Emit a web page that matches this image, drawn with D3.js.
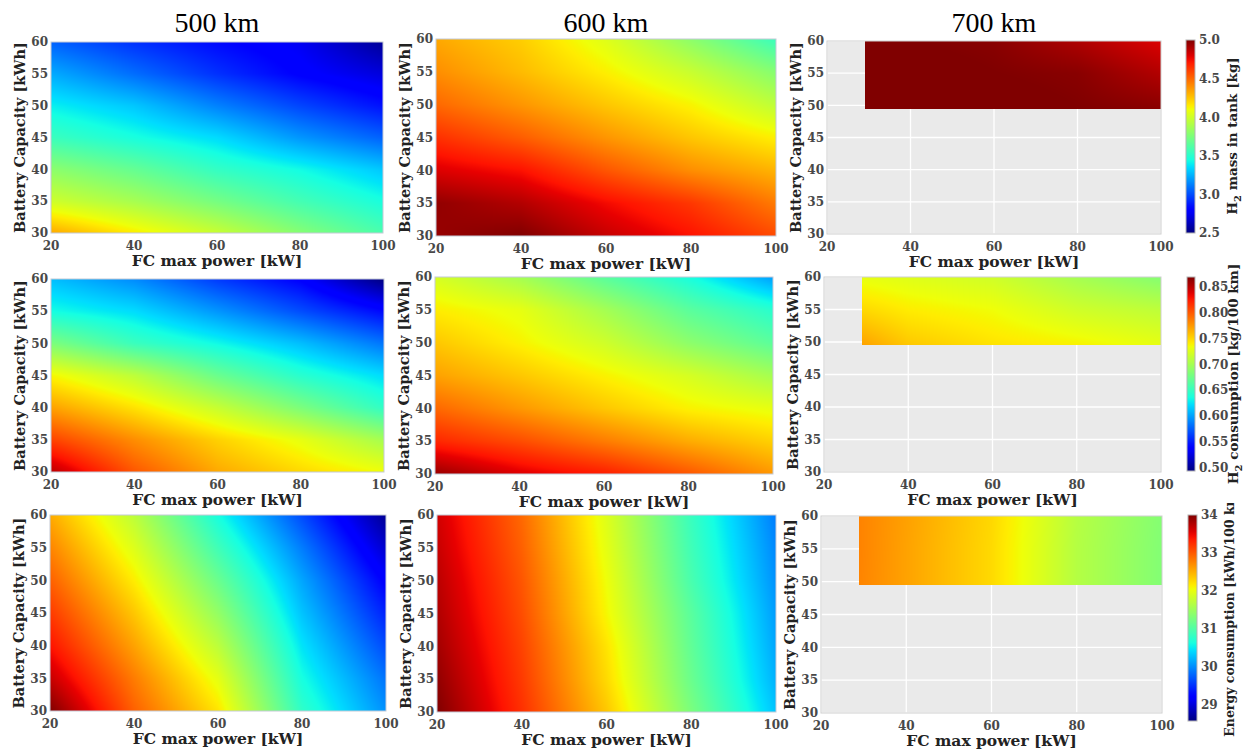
<!DOCTYPE html>
<html>
<head>
<meta charset="utf-8">
<script src="https://cdn.jsdelivr.net/npm/d3@7"></script>
<style>
  body { margin: 0; background: #fff; }
  svg { display: block; }
</style>
</head>
<body>
<svg id="fig" width="1252" height="752"></svg>
<script>
// --- data ---
var ranges = ["500 km", "600 km", "700 km"];
var fcPower = [20, 40, 60, 80, 100];           // kW
var batteryCap = [30, 35, 40, 45, 50, 55, 60]; // kWh
var fcPower700 = [29, 40, 60, 80, 100];
var batteryCap700 = [49.5, 55, 60];
var xTicks = [20, 40, 60, 80, 100];
var yTicks = [30, 35, 40, 45, 50, 55, 60];

// rows go from lowest battery capacity upward
var mass500 = [
  [4.33, 4.15, 3.98, 3.78, 3.60],
  [4.00, 3.88, 3.73, 3.58, 3.45],
  [3.80, 3.68, 3.53, 3.43, 3.30],
  [3.55, 3.45, 3.35, 3.18, 3.05],
  [3.40, 3.30, 3.13, 2.98, 2.85],
  [3.23, 3.08, 2.93, 2.80, 2.70],
  [3.05, 2.93, 2.83, 2.75, 2.55]
];
var mass600 = [
  [4.95, 5.00, 4.85, 4.73, 4.58],
  [4.96, 4.89, 4.75, 4.63, 4.45],
  [4.80, 4.73, 4.55, 4.40, 4.30],
  [4.65, 4.53, 4.38, 4.25, 4.14],
  [4.50, 4.38, 4.25, 4.13, 3.95],
  [4.40, 4.28, 4.14, 3.98, 3.78],
  [4.33, 4.23, 4.05, 3.80, 3.55]
];
var mass700 = [
  [5.05, 5.05, 5.03, 5.00, 4.98],
  [5.05, 5.03, 5.00, 4.98, 4.89],
  [5.02, 5.00, 4.98, 4.90, 4.80]
];
var cons500 = [
  [0.850, 0.801, 0.768, 0.749, 0.734],
  [0.809, 0.779, 0.752, 0.730, 0.700],
  [0.771, 0.745, 0.715, 0.681, 0.647],
  [0.737, 0.711, 0.673, 0.643, 0.621],
  [0.681, 0.651, 0.632, 0.610, 0.583],
  [0.634, 0.621, 0.595, 0.568, 0.542],
  [0.610, 0.591, 0.561, 0.538, 0.493]
];
var cons600 = [
  [0.861, 0.839, 0.824, 0.801, 0.775],
  [0.820, 0.805, 0.786, 0.767, 0.752],
  [0.794, 0.775, 0.756, 0.739, 0.730],
  [0.771, 0.756, 0.739, 0.722, 0.700],
  [0.756, 0.739, 0.719, 0.689, 0.666],
  [0.741, 0.730, 0.700, 0.666, 0.643],
  [0.722, 0.700, 0.666, 0.636, 0.598]
];
var cons700 = [
  [0.771, 0.756, 0.745, 0.739, 0.730],
  [0.749, 0.741, 0.734, 0.719, 0.711],
  [0.730, 0.726, 0.719, 0.700, 0.685]
];
var energy500 = [
  [34.00, 32.96, 32.20, 30.78, 30.02],
  [33.67, 32.80, 31.98, 30.62, 29.86],
  [33.40, 32.58, 31.71, 30.46, 29.64],
  [33.18, 32.37, 31.44, 30.29, 29.42],
  [32.96, 32.15, 31.17, 30.13, 29.20],
  [32.75, 31.93, 30.89, 29.91, 28.93],
  [32.53, 31.71, 30.62, 29.64, 28.66]
];
var energy600 = [
  [34.00, 33.24, 32.37, 31.28, 30.29],
  [33.92, 33.18, 32.26, 31.17, 30.19],
  [33.84, 33.13, 32.20, 31.11, 30.13],
  [33.78, 33.07, 32.09, 31.06, 30.08],
  [33.73, 33.02, 32.04, 30.95, 30.02],
  [33.67, 32.96, 31.98, 30.89, 29.97],
  [33.62, 32.91, 31.93, 30.84, 29.91]
];
var energy700 = [
  [32.75, 32.58, 32.26, 31.66, 31.33],
  [32.76, 32.58, 32.26, 31.66, 31.33],
  [32.76, 32.59, 32.27, 31.67, 31.34]
];

var massTicks = [2.5, 3.0, 3.5, 4.0, 4.5, 5.0];
var consTicks = [0.50, 0.55, 0.60, 0.65, 0.70, 0.75, 0.80, 0.85];
var energyTicks = [29, 30, 31, 32, 33, 34];

var rows = [
  { grids: [mass500, mass600, mass700], domain: [2.5, 5.0], ticks: massTicks, fmt: d3.format(".1f"),
    label: ["H", "2", " mass in tank [kg]"] },
  { grids: [cons500, cons600, cons700], domain: [0.493, 0.869], ticks: consTicks, fmt: d3.format(".2f"),
    label: ["H", "2", " consumption [kg/100 km]"] },
  { grids: [energy500, energy600, energy700], domain: [28.57, 34.0], ticks: energyTicks, fmt: d3.format("d"),
    label: ["Energy consumption [kWh/100 km]"] }
];

// --- layout (pixel boxes of each plot area) ---
var boxes = [
  [{x0: 51, x1: 383, y0: 42, y1: 233}, {x0: 436, x1: 776, y0: 39, y1: 236}, {x0: 827, x1: 1161, y0: 41, y1: 234}],
  [{x0: 51, x1: 384, y0: 279, y1: 472}, {x0: 435, x1: 773, y0: 277, y1: 474}, {x0: 824, x1: 1161, y0: 277, y1: 472}],
  [{x0: 50, x1: 386, y0: 515, y1: 711}, {x0: 437, x1: 776, y0: 515, y1: 712}, {x0: 821, x1: 1162, y0: 516, y1: 713}]
];
var cbars = [
  {x0: 1186, x1: 1195, y0: 40, y1: 233, lx: 1232, ly: 136, fs: 13.5},
  {x0: 1187, x1: 1195, y0: 277, y1: 471, lx: 1233, ly: 374, fs: 13.5},
  {x0: 1188, x1: 1197, y0: 515, y1: 721, lx: 1229, ly: 612, fs: 12.5}
];

var serif = "'DejaVu Serif', serif";

// matplotlib "jet"
var jr = d3.scaleLinear().domain([0, 0.35, 0.66, 0.89, 1]).range([0, 0, 1, 1, 0.5]).clamp(true);
var jg = d3.scaleLinear().domain([0, 0.125, 0.375, 0.64, 0.91, 1]).range([0, 0, 1, 1, 0, 0]).clamp(true);
var jb = d3.scaleLinear().domain([0, 0.11, 0.34, 0.65, 1]).range([0.5, 1, 1, 0, 0]).clamp(true);
function jetRGB(t) {
  return [Math.round(jr(t) * 255), Math.round(jg(t) * 255), Math.round(jb(t) * 255)];
}

// bilinear lookup in a grid
function fieldAt(xs, ys, grid, xv, yv) {
  if (xv < xs[0] || xv > xs[xs.length - 1] || yv < ys[0] || yv > ys[ys.length - 1]) return NaN;
  var i = Math.min(d3.bisectRight(xs, xv) - 1, xs.length - 2);
  var j = Math.min(d3.bisectRight(ys, yv) - 1, ys.length - 2);
  var tx = (xv - xs[i]) / (xs[i + 1] - xs[i]);
  var ty = (yv - ys[j]) / (ys[j + 1] - ys[j]);
  var a = grid[j][i] * (1 - tx) + grid[j][i + 1] * tx;
  var b = grid[j + 1][i] * (1 - tx) + grid[j + 1][i + 1] * tx;
  return a * (1 - ty) + b * ty;
}

var svg = d3.select("#fig");
svg.append("rect").attr("width", 1252).attr("height", 752).attr("fill", "#fff");
var defs = svg.append("defs");

rows.forEach(function (row, r) {
  var toT = d3.scaleLinear().domain(row.domain).range([0, 1]).clamp(true);

  row.grids.forEach(function (grid, c) {
    var bx = boxes[r][c];
    var is700 = c === 2;
    var xs = is700 ? fcPower700 : fcPower;
    var ys = is700 ? batteryCap700 : batteryCap;
    var x = d3.scaleLinear().domain([20, 100]).range([bx.x0, bx.x1]);
    var y = d3.scaleLinear().domain([30, 60]).range([bx.y1, bx.y0]);
    var g = svg.append("g");

    if (is700) {
      g.append("rect").attr("x", bx.x0).attr("y", bx.y0)
        .attr("width", bx.x1 - bx.x0).attr("height", bx.y1 - bx.y0).attr("fill", "#eaeaea");
      g.selectAll("line.gx").data(xTicks).enter().append("line")
        .attr("x1", function (d) { return x(d); }).attr("x2", function (d) { return x(d); })
        .attr("y1", bx.y0).attr("y2", bx.y1).attr("stroke", "#fff").attr("stroke-width", 1.3);
      g.selectAll("line.gy").data(yTicks).enter().append("line")
        .attr("y1", function (d) { return y(d); }).attr("y2", function (d) { return y(d); })
        .attr("x1", bx.x0).attr("x2", bx.x1).attr("stroke", "#fff").attr("stroke-width", 1.3);
    }

    // heatmap raster
    var w = Math.round(bx.x1 - bx.x0), h = Math.round(bx.y1 - bx.y0);
    var canvas = document.createElement("canvas");
    canvas.width = w; canvas.height = h;
    var ctx = canvas.getContext("2d");
    var img = ctx.createImageData(w, h);
    for (var py = 0; py < h; py++) {
      var yv = y.invert(bx.y0 + py + 0.5);
      for (var px = 0; px < w; px++) {
        var xv = x.invert(bx.x0 + px + 0.5);
        var v = fieldAt(xs, ys, grid, xv, yv);
        var k = (py * w + px) * 4;
        if (isNaN(v)) { img.data[k + 3] = 0; continue; }
        var col = jetRGB(toT(v));
        img.data[k] = col[0]; img.data[k + 1] = col[1]; img.data[k + 2] = col[2]; img.data[k + 3] = 255;
      }
    }
    ctx.putImageData(img, 0, 0);
    g.append("image").attr("href", canvas.toDataURL())
      .attr("x", bx.x0).attr("y", bx.y0).attr("width", w).attr("height", h)
      .attr("preserveAspectRatio", "none");

    g.append("rect").attr("x", bx.x0).attr("y", bx.y0)
      .attr("width", bx.x1 - bx.x0).attr("height", bx.y1 - bx.y0)
      .attr("fill", "none").attr("stroke", is700 ? "#cfcfcf" : "#c3cad6").attr("stroke-width", 1);

    // tick labels
    g.selectAll("text.xt").data(xTicks).enter().append("text")
      .attr("x", function (d) { return x(d); }).attr("y", bx.y1 + 17)
      .attr("text-anchor", "middle").attr("font-family", serif).attr("font-weight", "bold")
      .attr("font-size", 12).attr("fill", "#484848").text(function (d) { return d; });
    g.selectAll("text.yt").data(yTicks).enter().append("text")
      .attr("x", bx.x0 - 3).attr("y", function (d) { return y(d); }).attr("dy", "0.36em")
      .attr("text-anchor", "end").attr("font-family", serif).attr("font-weight", "bold")
      .attr("font-size", 12).attr("fill", "#484848").text(function (d) { return d; });

    // axis labels
    g.append("text").attr("x", (bx.x0 + bx.x1) / 2).attr("y", bx.y1 + 33)
      .attr("text-anchor", "middle").attr("font-family", serif).attr("font-weight", "bold")
      .attr("font-size", 15.5).attr("fill", "#222").text("FC max power [kW]");
    var ly = (bx.y0 + bx.y1) / 2, lx = bx.x0 - 32;
    g.append("text").attr("transform", "translate(" + lx + "," + ly + ") rotate(-90)")
      .attr("text-anchor", "middle").attr("dominant-baseline", "central")
      .attr("font-family", serif).attr("font-weight", "bold")
      .attr("font-size", 14.5).attr("fill", "#222").text("Battery Capacity [kWh]");

    if (r === 0) {
      svg.append("text").attr("x", (bx.x0 + bx.x1) / 2).attr("y", 32)
        .attr("text-anchor", "middle").attr("font-family", "'Liberation Serif', serif")
        .attr("font-size", 28).attr("fill", "#000").text(ranges[c]);
    }
  });

  // colorbar
  var cb = cbars[r];
  var cy = d3.scaleLinear().domain(row.domain).range([cb.y1, cb.y0]);
  var gid = "jet" + r;
  var grad = defs.append("linearGradient").attr("id", gid)
    .attr("x1", 0).attr("y1", 1).attr("x2", 0).attr("y2", 0);
  d3.range(0, 1.0001, 0.02).forEach(function (t) {
    var col = jetRGB(t);
    grad.append("stop").attr("offset", t).attr("stop-color", "rgb(" + col.join(",") + ")");
  });
  svg.append("rect").attr("x", cb.x0).attr("y", cb.y0)
    .attr("width", cb.x1 - cb.x0).attr("height", cb.y1 - cb.y0)
    .attr("fill", "url(#" + gid + ")").attr("stroke", "#b5b5b5").attr("stroke-width", 1);
  svg.selectAll("text.cb" + r).data(row.ticks).enter().append("text")
    .attr("x", cb.x1 + 4).attr("y", function (d) { return cy(d); }).attr("dy", "0.36em")
    .attr("font-family", serif).attr("font-weight", "bold").attr("font-size", 12)
    .attr("fill", "#484848").text(function (d) { return row.fmt(d); });

  var lg = svg.append("g");
  if (r === 2) {
    // the original figure crops this label at the top
    defs.append("clipPath").attr("id", "cbclip").append("rect")
      .attr("x", 1200).attr("y", 503).attr("width", 52).attr("height", 249);
    lg.attr("clip-path", "url(#cbclip)");
  }
  var lt = lg.append("text")
    .attr("transform", "translate(" + cb.lx + "," + cb.ly + ") rotate(-90)")
    .attr("text-anchor", "middle").attr("dominant-baseline", "central")
    .attr("font-family", serif).attr("font-weight", "bold").attr("font-size", cb.fs).attr("fill", "#222");
  if (row.label.length === 3) {
    lt.append("tspan").text(row.label[0]);
    lt.append("tspan").attr("baseline-shift", "sub").attr("font-size", 10).text(row.label[1]);
    lt.append("tspan").text(row.label[2]);
  } else {
    lt.text(row.label[0]);
  }
});
</script>
</body>
</html>
